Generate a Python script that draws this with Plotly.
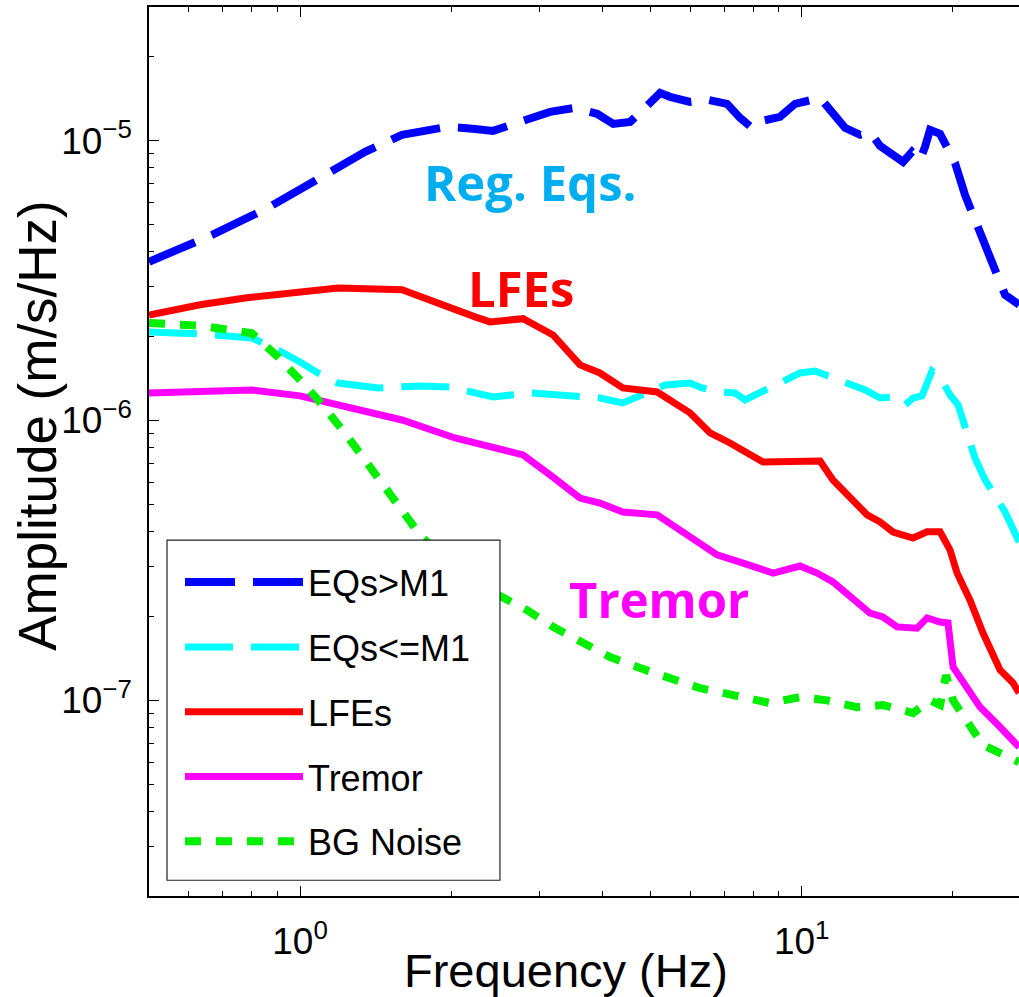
import numpy as np
import plotly.graph_objects as go

# Frequency (Hz) / amplitude (m/s/Hz) spectra for each event class
freq_eq_large = [0.5, 0.668, 0.863, 1.121, 1.348, 1.597, 1.80, 1.972, 2.233, 2.425, 2.745, 3.15,
                 3.534, 3.91, 4.21, 4.549, 4.87, 5.22, 5.465, 5.99, 6.505, 7.10, 7.535, 7.96,
                 8.334, 9.05, 9.70, 10.29, 10.88, 11.39, 12.20, 13.07, 13.68, 14.32, 15.21,
                 15.92, 16.59, 17.21, 17.61, 18.02, 18.87, 19.57, 20.21, 21.16, 22.15, 23.2,
                 24.29, 25.43, 27.12]
amp_eq_large = [3.69e-6, 4.60e-6, 5.75e-6, 7.5e-6, 9.11e-6, 1.048e-5, 1.092e-5, 1.12e-5, 1.10e-5,
                1.083e-5, 1.166e-5, 1.266e-5, 1.309e-5, 1.246e-5, 1.147e-5, 1.166e-5, 1.309e-5,
                1.48e-5, 1.433e-5, 1.375e-5, 1.398e-5, 1.353e-5, 1.205e-5, 1.11e-5, 1.176e-5,
                1.215e-5, 1.353e-5, 1.386e-5, 1.42e-5, 1.287e-5, 1.11e-5, 1.048e-5, 1.074e-5,
                9.57e-6, 8.89e-6, 8.39e-6, 9.11e-6, 8.53e-6, 9.49e-6, 1.092e-5, 1.057e-5,
                9.26e-6, 8.32e-6, 6.39e-6, 5.21e-6, 4.07e-6, 3.45e-6, 2.81e-6, 2.59e-6]

freq_eq_small = [0.5, 0.632, 0.802, 0.904, 1.0, 1.086, 1.19, 1.43, 1.735, 1.991, 2.233, 2.425,
                 2.873, 3.50, 3.96, 4.40, 4.76, 5.34, 5.99, 6.33, 6.87, 7.36, 7.71, 8.26, 9.05,
                 9.92, 10.63, 11.54, 12.49, 13.38, 14.33, 15.21, 16.06, 16.67, 17.37, 18.19,
                 18.87, 19.76, 20.5, 21.16, 22.15, 23.2, 24.29, 25.43, 27.12]
amp_eq_small = [2.07e-6, 2.04e-6, 1.97e-6, 1.786e-6, 1.618e-6, 1.478e-6, 1.36e-6, 1.307e-6,
                1.328e-6, 1.317e-6, 1.254e-6, 1.213e-6, 1.254e-6, 1.233e-6, 1.203e-6, 1.155e-6,
                1.224e-6, 1.339e-6, 1.36e-6, 1.307e-6, 1.264e-6, 1.254e-6, 1.184e-6, 1.254e-6,
                1.35e-6, 1.478e-6, 1.502e-6, 1.419e-6, 1.339e-6, 1.285e-6, 1.203e-6, 1.213e-6,
                1.136e-6, 1.203e-6, 1.224e-6, 1.502e-6, 1.43e-6, 1.233e-6, 1.136e-6, 9.64e-7,
                7.35e-7, 6.13e-7, 5.33e-7, 4.71e-7, 3.68e-7]

freq_lfe = [0.5, 0.632, 0.777, 1.0, 1.19, 1.597, 1.901, 2.233, 2.391, 2.783, 3.194, 3.615, 3.96,
            4.40, 5.15, 5.99, 6.567, 7.195, 8.37, 9.92, 10.88, 11.54, 12.49, 13.50, 14.33, 15.21,
            16.67, 17.78, 18.87, 19.76, 20.4, 21.65, 22.98, 24.85, 26.38, 27.12]
amp_lfe = [2.38e-6, 2.59e-6, 2.74e-6, 2.88e-6, 2.975e-6, 2.93e-6, 2.59e-6, 2.345e-6, 2.25e-6,
           2.31e-6, 2.02e-6, 1.579e-6, 1.478e-6, 1.307e-6, 1.264e-6, 1.064e-6, 9.02e-7, 8.31e-7,
           7.11e-7, 7.11e-7, 7.16e-7, 6.13e-7, 5.33e-7, 4.60e-7, 4.34e-7, 3.995e-7, 3.80e-7,
           4.0e-7, 4.0e-7, 3.44e-7, 2.85e-7, 2.28e-7, 1.74e-7, 1.283e-7, 1.153e-7, 1.062e-7]

freq_tremor = [0.5, 0.802, 1.0, 1.19, 1.597, 2.037, 2.317, 2.783, 3.15, 3.615, 3.96, 4.40, 5.15,
               5.80, 6.78, 7.535, 8.77, 9.92, 10.73, 11.54, 12.49, 13.68, 14.52, 15.49, 16.98,
               17.78, 18.87, 19.57, 20.03, 21.36, 22.67, 24.85, 27.12]
amp_tremor = [1.254e-6, 1.285e-6, 1.224e-6, 1.136e-6, 1.004e-6, 8.66e-7, 8.17e-7, 7.53e-7,
              6.39e-7, 5.28e-7, 5.07e-7, 4.71e-7, 4.60e-7, 3.96e-7, 3.31e-7, 3.12e-7, 2.85e-7,
              3.02e-7, 2.85e-7, 2.65e-7, 2.34e-7, 2.05e-7, 1.985e-7, 1.83e-7, 1.81e-7, 1.97e-7,
              1.905e-7, 1.89e-7, 1.315e-7, 1.115e-7, 9.46e-8, 8.03e-8, 6.81e-8]

freq_noise = [0.5, 0.632, 0.802, 0.904, 1.0, 1.086, 1.229, 1.43, 1.582, 1.735, 1.991, 2.233,
              2.503, 2.835, 3.194, 3.665, 4.15, 4.76, 5.54, 6.27, 7.30, 8.65, 9.92, 11.23, 12.89,
              14.52, 16.67, 18.02, 18.87, 19.39, 20.03, 21.36, 22.98, 24.85, 27.12]
amp_noise = [2.23e-6, 2.18e-6, 2.05e-6, 1.686e-6, 1.395e-6, 1.184e-6, 9.02e-7, 6.23e-7, 4.87e-7,
             3.90e-7, 3.04e-7, 2.58e-7, 2.36e-7, 2.10e-7, 1.83e-7, 1.60e-7, 1.428e-7, 1.304e-7,
             1.182e-7, 1.106e-7, 1.044e-7, 9.78e-8, 1.027e-7, 1.0e-7, 9.46e-8, 9.62e-8, 9.01e-8,
             1.0e-7, 9.62e-8, 1.23e-7, 1.0e-7, 8.3e-8, 6.92e-8, 6.48e-8, 6.02e-8]

series = [
    ("EQs>M1", freq_eq_large, amp_eq_large, "#0000ff", 8, "50px,18px"),
    ("EQs<=M1", freq_eq_small, amp_eq_small, "#00ffff", 7, "48px,18px"),
    ("LFEs", freq_lfe, amp_lfe, "#ff0000", 7, "solid"),
    ("Tremor", freq_tremor, amp_tremor, "#ff00ff", 7, "solid"),
    ("BG Noise", freq_noise, amp_noise, "#00ee00", 8, "16px,15px"),
]

x_range = [np.log10(0.5), 1.4331]
y_range = [np.log10(2e-8), np.log10(3e-5)]

x_major = [1, 10]
x_major_text = ["10<sup>0</sup>", "10<sup>1</sup>"]
x_minor = [0.6, 0.7, 0.8, 0.9, 2, 3, 4, 5, 6, 7, 8, 9, 20]
y_major = [1e-7, 1e-6, 1e-5]
y_major_text = ["10<sup>\u22127</sup>", "10<sup>\u22126</sup>", "10<sup>\u22125</sup>"]
y_minor = [m * 10.0 ** e for e in (-8, -7, -6) for m in range(2, 10)] + [2e-5]

BASE_FONT = "Liberation Sans, Arial, Helvetica, sans-serif"
LABEL_FONT = "Open Sans, Noto Sans, sans-serif"

fig = go.Figure()
for i, (name, f, a, color, width, dash) in enumerate(series):
    fig.add_trace(go.Scatter(
        x=f, y=a, mode="lines", name=name, legendgroup=f"g{i}",
        line=dict(color=color, width=width, dash=dash),
    ))

# Framed white panel that holds the legend entries (covers the curves beneath it)
fig.add_shape(type="rect", xref="paper", yref="paper",
              x0=0.0207, x1=0.4034, y0=0.0177, y1=0.4002,
              fillcolor="white", line=dict(color="#222222", width=1.2), layer="above")

fig.update_layout(
    width=1019, height=997,
    margin=dict(l=149, r=0, t=7, b=101),
    plot_bgcolor="white", paper_bgcolor="white",
    font=dict(family=BASE_FONT, color="black"),
    showlegend=True,
    legend=dict(
        x=0.0356, y=0.3867, xanchor="left", yanchor="top",
        bgcolor="rgba(0,0,0,0)", borderwidth=0,
        font=dict(family=BASE_FONT, size=36, color="black"),
        itemwidth=118, tracegroupgap=15,
    ),
    xaxis=dict(
        type="log", range=x_range, showgrid=False, zeroline=False,
        showline=True, linecolor="black", linewidth=1.5, mirror="ticks",
        ticks="inside", ticklen=10, tickwidth=1.2, tickcolor="black",
        tickmode="array", tickvals=x_major, ticktext=x_major_text,
        tickfont=dict(family=BASE_FONT, size=37, color="black"),
        ticklabelstandoff=12,
        minor=dict(ticks="inside", ticklen=5, tickwidth=1.2, tickcolor="black",
                   tickmode="array", tickvals=x_minor, showgrid=False),
    ),
    yaxis=dict(
        type="log", range=y_range, showgrid=False, zeroline=False,
        showline=True, linecolor="black", linewidth=1.5, mirror=False,
        ticks="inside", ticklen=10, tickwidth=1.2, tickcolor="black",
        tickmode="array", tickvals=y_major, ticktext=y_major_text,
        tickfont=dict(family=BASE_FONT, size=37, color="black"),
        ticklabelstandoff=8,
        minor=dict(ticks="inside", ticklen=5, tickwidth=1.2, tickcolor="black",
                   tickmode="array", tickvals=y_minor, showgrid=False),
    ),
)

# Axis titles
fig.add_annotation(text="Frequency (Hz)", xref="paper", yref="paper", x=0.4793, y=-0.0835,
                   xanchor="center", yanchor="middle", showarrow=False,
                   font=dict(family=BASE_FONT, size=47, color="black"))
fig.add_annotation(text="Amplitude (m/s/Hz)", xref="paper", yref="paper", x=-0.1276, y=0.530,
                   xanchor="center", yanchor="middle", showarrow=False, textangle=-90,
                   font=dict(family=BASE_FONT, size=53, color="black"))

# In-plot curve labels
curve_labels = [
    ("Reg. Eqs.", 0.4379, 0.803, "#00aeef"),
    ("LFEs", 0.4276, 0.684, "#ff0000"),
    ("Tremor", 0.5862, 0.334, "#ff00ff"),
]
for text, lx, ly, color in curve_labels:
    fig.add_annotation(text=f"<b>{text}</b>", xref="paper", yref="paper", x=lx, y=ly,
                       xanchor="center", yanchor="middle", showarrow=False,
                       font=dict(family=LABEL_FONT, size=49, color=color))

fig.write_html("out.html")
